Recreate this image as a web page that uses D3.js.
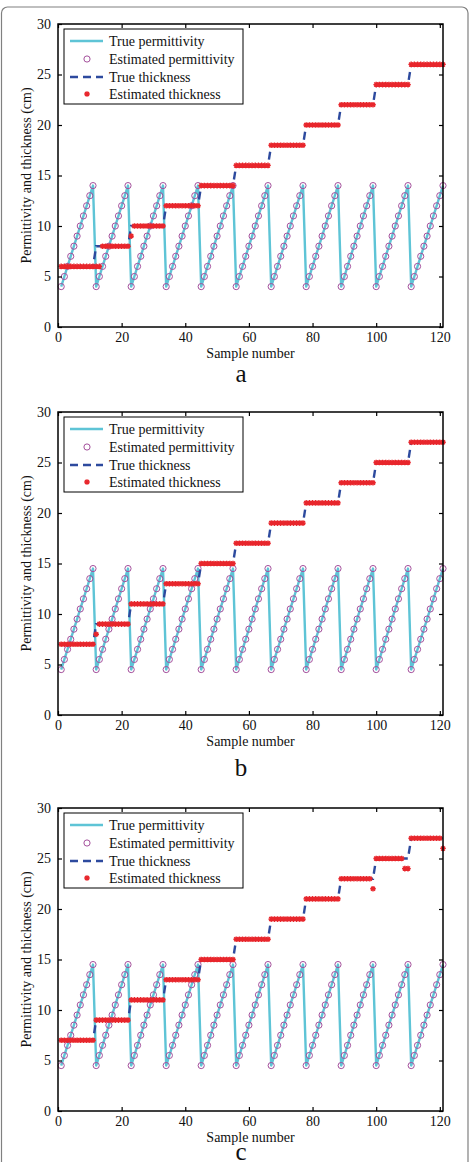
<!DOCTYPE html>
<head>
  <meta charset="utf-8">
  <script src="https://d3js.org/d3.v7.min.js"></script>
  <style>
    body { margin: 0; background: #ffffff; }
    svg { display: block; }
    text { font-family: "Times New Roman", "Liberation Serif", "DejaVu Serif", serif; fill: #111; }
  </style>
</head>
<body>
<script>

// ---- data ----
var xTicks = [0, 20, 40, 60, 80, 100, 120];
var yTicks = [0, 5, 10, 15, 20, 25, 30];
var panelNames = ["a", "b", "c"];
var legendLabels = ["True permittivity", "Estimated permittivity", "True thickness", "Estimated thickness"];

// permittivity, panel a (samples 1..121)
var permA = [
  4,5,6,7,8,9,10,11,12,13,14, 4,5,6,7,8,9,10,11,12,13,14,
  4,5,6,7,8,9,10,11,12,13,14, 4,5,6,7,8,9,10,11,12,13,14,
  4,5,6,7,8,9,10,11,12,13,14, 4,5,6,7,8,9,10,11,12,13,14,
  4,5,6,7,8,9,10,11,12,13,14, 4,5,6,7,8,9,10,11,12,13,14,
  4,5,6,7,8,9,10,11,12,13,14, 4,5,6,7,8,9,10,11,12,13,14,
  4,5,6,7,8,9,10,11,12,13,14
];
// permittivity, panels b and c
var permBC = [
  4.5,5.5,6.5,7.5,8.5,9.5,10.5,11.5,12.5,13.5,14.5, 4.5,5.5,6.5,7.5,8.5,9.5,10.5,11.5,12.5,13.5,14.5,
  4.5,5.5,6.5,7.5,8.5,9.5,10.5,11.5,12.5,13.5,14.5, 4.5,5.5,6.5,7.5,8.5,9.5,10.5,11.5,12.5,13.5,14.5,
  4.5,5.5,6.5,7.5,8.5,9.5,10.5,11.5,12.5,13.5,14.5, 4.5,5.5,6.5,7.5,8.5,9.5,10.5,11.5,12.5,13.5,14.5,
  4.5,5.5,6.5,7.5,8.5,9.5,10.5,11.5,12.5,13.5,14.5, 4.5,5.5,6.5,7.5,8.5,9.5,10.5,11.5,12.5,13.5,14.5,
  4.5,5.5,6.5,7.5,8.5,9.5,10.5,11.5,12.5,13.5,14.5, 4.5,5.5,6.5,7.5,8.5,9.5,10.5,11.5,12.5,13.5,14.5,
  4.5,5.5,6.5,7.5,8.5,9.5,10.5,11.5,12.5,13.5,14.5
];

var thickTrueA = [
  6,6,6,6,6,6,6,6,6,6,6,  8,8,8,8,8,8,8,8,8,8,8,
  10,10,10,10,10,10,10,10,10,10,10,  12,12,12,12,12,12,12,12,12,12,12,
  14,14,14,14,14,14,14,14,14,14,14,  16,16,16,16,16,16,16,16,16,16,16,
  18,18,18,18,18,18,18,18,18,18,18,  20,20,20,20,20,20,20,20,20,20,20,
  22,22,22,22,22,22,22,22,22,22,22,  24,24,24,24,24,24,24,24,24,24,24,
  26,26,26,26,26,26,26,26,26,26,26
];
var thickEstA = [
  6,6,6,6,6,6,6,6,6,6,6,  6,6,8,8,8,8,8,8,8,8,8,
  9,10,10,10,10,10,10,10,10,10,10,  12,12,12,12,12,12,12,12,12,12,12,
  14,14,14,14,14,14,14,14,14,14,14,  16,16,16,16,16,16,16,16,16,16,16,
  18,18,18,18,18,18,18,18,18,18,18,  20,20,20,20,20,20,20,20,20,20,20,
  22,22,22,22,22,22,22,22,22,22,22,  24,24,24,24,24,24,24,24,24,24,24,
  26,26,26,26,26,26,26,26,26,26,26
];
var thickTrueBC = [
  7,7,7,7,7,7,7,7,7,7,7,  9,9,9,9,9,9,9,9,9,9,9,
  11,11,11,11,11,11,11,11,11,11,11,  13,13,13,13,13,13,13,13,13,13,13,
  15,15,15,15,15,15,15,15,15,15,15,  17,17,17,17,17,17,17,17,17,17,17,
  19,19,19,19,19,19,19,19,19,19,19,  21,21,21,21,21,21,21,21,21,21,21,
  23,23,23,23,23,23,23,23,23,23,23,  25,25,25,25,25,25,25,25,25,25,25,
  27,27,27,27,27,27,27,27,27,27,27
];
var thickEstB = [
  7,7,7,7,7,7,7,7,7,7,7,  8,9,9,9,9,9,9,9,9,9,9,
  11,11,11,11,11,11,11,11,11,11,11,  13,13,13,13,13,13,13,13,13,13,13,
  15,15,15,15,15,15,15,15,15,15,15,  17,17,17,17,17,17,17,17,17,17,17,
  19,19,19,19,19,19,19,19,19,19,19,  21,21,21,21,21,21,21,21,21,21,21,
  23,23,23,23,23,23,23,23,23,23,23,  25,25,25,25,25,25,25,25,25,25,25,
  27,27,27,27,27,27,27,27,27,27,27
];
var thickEstC = [
  7,7,7,7,7,7,7,7,7,7,7,  9,9,9,9,9,9,9,9,9,9,9,
  11,11,11,11,11,11,11,11,11,11,11,  13,13,13,13,13,13,13,13,13,13,13,
  15,15,15,15,15,15,15,15,15,15,15,  17,17,17,17,17,17,17,17,17,17,17,
  19,19,19,19,19,19,19,19,19,19,19,  21,21,21,21,21,21,21,21,21,21,21,
  23,23,23,23,23,23,23,23,23,23,22,  25,25,25,25,25,25,25,25,25,24,24,
  27,27,27,27,27,27,27,27,27,27,26
];

var panels = [
  { name: panelNames[0], perm: permA,  permEst: permA,  thick: thickTrueA,  thickEst: thickEstA, top: 24,  labelY: 382 },
  { name: panelNames[1], perm: permBC, permEst: permBC, thick: thickTrueBC, thickEst: thickEstB, top: 412, labelY: 776 },
  { name: panelNames[2], perm: permBC, permEst: permBC, thick: thickTrueBC, thickEst: thickEstC, top: 808, labelY: 1160 }
];

// ---- layout ----
var W = 470, H = 1162;
var left = 58, right = 443, plotH = 303;
var serif = "Times New Roman, Liberation Serif, DejaVu Serif, serif";
var cPerm = "#5ec4d6", cCirc = "#a4509c", cThick = "#2d4a9e", cEst = "#e8262c";

var svg = d3.select("body").append("svg")
  .attr("width", W)
  .attr("height", H);

svg.append("rect").attr("width", W).attr("height", H).attr("fill", "#fff");

// frame around the whole figure
svg.append("rect")
  .attr("x", 1.5).attr("y", 7).attr("width", 466.5).attr("height", H + 20)
  .attr("rx", 6)
  .attr("fill", "none").attr("stroke", "#808080").attr("stroke-width", 1.2);

var x = d3.scaleLinear().domain([0, 121]).range([left, right]);

// MATLAB style asterisk
var asterisk = "M-2.8,0H2.8M0,-2.8V2.8M-2,-2L2,2M-2,2L2,-2";

function drawPanel(p) {
  var y = d3.scaleLinear().domain([0, 30]).range([p.top + plotH, p.top]);
  var g = svg.append("g").attr("font-family", serif);
  var bottom = p.top + plotH;

  // true permittivity
  g.append("path")
    .datum(p.perm)
    .attr("fill", "none")
    .attr("stroke", cPerm)
    .attr("stroke-width", 2.4)
    .attr("stroke-linejoin", "round")
    .attr("d", d3.line().x(function(d, i) { return x(i + 1); }).y(function(d) { return y(d); }));

  // estimated permittivity
  g.selectAll("circle.est")
    .data(p.permEst)
    .enter().append("circle")
    .attr("class", "est")
    .attr("cx", function(d, i) { return x(i + 1); })
    .attr("cy", function(d) { return y(d); })
    .attr("r", 3.1)
    .attr("fill", "none")
    .attr("stroke", cCirc)
    .attr("stroke-width", 1);

  // true thickness
  g.append("path")
    .datum(p.thick)
    .attr("fill", "none")
    .attr("stroke", cThick)
    .attr("stroke-width", 2.4)
    .attr("stroke-dasharray", "8,5")
    .attr("d", d3.line().x(function(d, i) { return x(i + 1); }).y(function(d) { return y(d); }));

  // estimated thickness
  g.selectAll("path.ast")
    .data(p.thickEst)
    .enter().append("path")
    .attr("class", "ast")
    .attr("d", asterisk)
    .attr("transform", function(d, i) { return "translate(" + x(i + 1) + "," + y(d) + ")"; })
    .attr("fill", "none")
    .attr("stroke", cEst)
    .attr("stroke-width", 1.4);

  // box + inward ticks
  g.append("rect")
    .attr("x", left).attr("y", p.top).attr("width", right - left).attr("height", plotH)
    .attr("fill", "none").attr("stroke", "#000").attr("stroke-width", 1.5);

  g.append("g").attr("transform", "translate(0," + bottom + ")")
    .call(d3.axisBottom(x).tickValues(xTicks).tickSizeInner(-4).tickSizeOuter(0).tickPadding(5))
    .call(function(a) {
      a.attr("font-family", serif).attr("font-size", 14);
      a.select(".domain").remove();
      a.selectAll("text").attr("fill", "#111");
    });
  g.append("g").attr("transform", "translate(0," + p.top + ")")
    .call(d3.axisTop(x).tickValues(xTicks).tickSizeInner(-4).tickSizeOuter(0).tickFormat(""))
    .select(".domain").remove();
  g.append("g").attr("transform", "translate(" + left + ",0)")
    .call(d3.axisLeft(y).tickValues(yTicks).tickSizeInner(-4).tickSizeOuter(0).tickPadding(7))
    .call(function(a) {
      a.attr("font-family", serif).attr("font-size", 14);
      a.select(".domain").remove();
      a.selectAll("text").attr("fill", "#111");
    });
  g.append("g").attr("transform", "translate(" + right + ",0)")
    .call(d3.axisRight(y).tickValues(yTicks).tickSizeInner(-4).tickSizeOuter(0).tickFormat(""))
    .select(".domain").remove();

  g.selectAll(".tick line").attr("stroke", "#000").attr("stroke-width", 1.2);

  // axis titles
  g.append("text")
    .attr("x", (left + right) / 2).attr("y", bottom + 31)
    .attr("text-anchor", "middle").attr("font-size", 14)
    .text("Sample number");
  g.append("text")
    .attr("transform", "translate(31," + (p.top + plotH / 2) + ") rotate(-90)")
    .attr("text-anchor", "middle").attr("font-size", 14)
    .text("Permittivity and thickness (cm)");

  // panel letter
  g.append("text")
    .attr("x", 241).attr("y", p.labelY)
    .attr("text-anchor", "middle").attr("font-size", 25)
    .text(p.name);

  // legend
  var lg = g.append("g").attr("transform", "translate(64," + (p.top + 5) + ")");
  lg.append("rect").attr("width", 179).attr("height", 75)
    .attr("fill", "#fff").attr("stroke", "#000").attr("stroke-width", 1);
  var rows = [12, 30, 48, 65];
  lg.append("line").attr("x1", 6).attr("x2", 39).attr("y1", rows[0]).attr("y2", rows[0])
    .attr("stroke", cPerm).attr("stroke-width", 2.4);
  lg.append("circle").attr("cx", 23).attr("cy", rows[1]).attr("r", 3.1)
    .attr("fill", "none").attr("stroke", cCirc).attr("stroke-width", 1);
  lg.append("line").attr("x1", 6).attr("x2", 39).attr("y1", rows[2]).attr("y2", rows[2])
    .attr("stroke", cThick).attr("stroke-width", 2.4).attr("stroke-dasharray", "8,5");
  lg.append("path").attr("d", asterisk).attr("transform", "translate(23," + rows[3] + ")")
    .attr("fill", "none").attr("stroke", cEst).attr("stroke-width", 1.4);
  lg.selectAll("text.leg")
    .data(legendLabels)
    .enter().append("text")
    .attr("class", "leg")
    .attr("x", 45)
    .attr("y", function(d, i) { return rows[i]; })
    .attr("dy", "0.35em")
    .attr("font-size", 14)
    .text(function(d) { return d; });
}

panels.forEach(drawPanel);

</script>
</body>
